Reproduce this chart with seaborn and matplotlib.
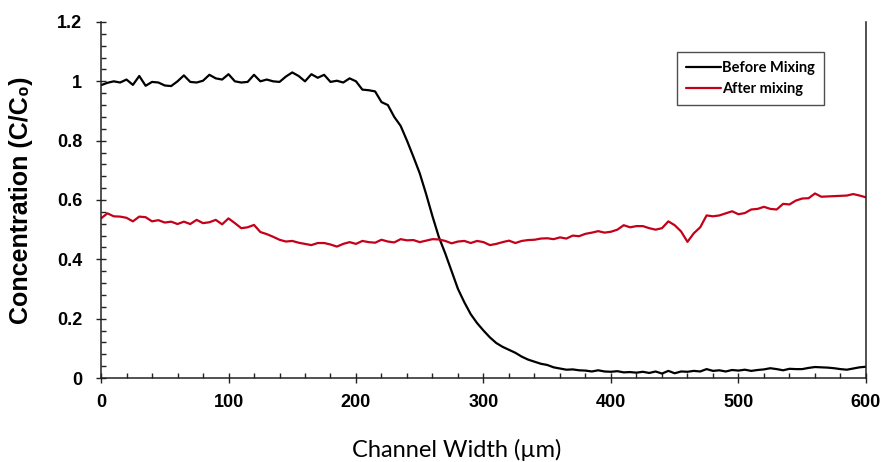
import matplotlib
matplotlib.use("Agg")
import matplotlib.pyplot as plt
import numpy as np
import pandas as pd
import seaborn as sns
from matplotlib import font_manager
from matplotlib.ticker import FuncFormatter, MultipleLocator

# channel position (um), one reading every 5 um
width_um = list(range(0, 605, 5))

before_mixing = [
    0.987, 0.995, 1.000, 0.996, 1.006, 0.988, 1.018, 0.985, 0.998, 0.996,
    0.986, 0.984, 1.000, 1.020, 0.998, 0.996, 1.002, 1.022, 1.010, 1.006,
    1.024, 1.000, 0.996, 0.998, 1.022, 1.000, 1.006, 1.000, 0.998, 1.016,
    1.030, 1.018, 1.000, 1.024, 1.012, 1.022, 0.998, 1.002, 0.996, 1.010,
    1.000, 0.972, 0.970, 0.966, 0.930, 0.920, 0.880, 0.850, 0.800, 0.746,
    0.690, 0.620, 0.545, 0.475, 0.420, 0.360, 0.300, 0.255, 0.215, 0.185,
    0.160, 0.137, 0.118, 0.105, 0.095, 0.085, 0.072, 0.062, 0.055, 0.048,
    0.044, 0.036, 0.032, 0.028, 0.029, 0.026, 0.025, 0.022, 0.026, 0.022,
    0.021, 0.023, 0.019, 0.020, 0.018, 0.021, 0.017, 0.022, 0.015, 0.024,
    0.016, 0.022, 0.021, 0.024, 0.022, 0.030, 0.024, 0.026, 0.022, 0.027,
    0.025, 0.028, 0.024, 0.027, 0.029, 0.033, 0.030, 0.026, 0.031, 0.030,
    0.030, 0.034, 0.037, 0.036, 0.035, 0.033, 0.030, 0.028, 0.032, 0.036,
    0.038,
]

after_mixing = [
    0.538, 0.555, 0.545, 0.544, 0.540, 0.528, 0.544, 0.542, 0.528, 0.532,
    0.524, 0.527, 0.519, 0.527, 0.519, 0.533, 0.522, 0.525, 0.533, 0.518,
    0.538, 0.522, 0.505, 0.508, 0.516, 0.492, 0.485, 0.476, 0.466, 0.460,
    0.462, 0.456, 0.452, 0.448, 0.455, 0.455, 0.450, 0.443, 0.452, 0.458,
    0.452, 0.462, 0.458, 0.456, 0.466, 0.460, 0.457, 0.468, 0.464, 0.465,
    0.458, 0.463, 0.468, 0.467, 0.462, 0.454, 0.460, 0.462, 0.455, 0.462,
    0.458, 0.448, 0.452, 0.458, 0.463, 0.455, 0.462, 0.465, 0.466, 0.470,
    0.471, 0.468, 0.474, 0.470, 0.480, 0.478, 0.486, 0.490, 0.495, 0.490,
    0.493, 0.500, 0.515, 0.508, 0.512, 0.512, 0.505, 0.500, 0.505, 0.528,
    0.515, 0.494, 0.459, 0.488, 0.508, 0.548, 0.545, 0.548, 0.555, 0.562,
    0.552, 0.556, 0.568, 0.570, 0.577, 0.570, 0.568, 0.587, 0.585, 0.598,
    0.605, 0.606, 0.622, 0.611, 0.612, 0.613, 0.614, 0.615, 0.620, 0.615,
    0.609,
]

series_names = ["Before Mixing", "After mixing"]
series_colors = ["#000000", "#C4001A"]


def pick_font(*names):
    installed = {f.name for f in font_manager.fontManager.ttflist}
    for name in names:
        if name in installed:
            return name
    return "DejaVu Sans"


sns.set_style("ticks")
narrow = pick_font("Liberation Sans Narrow", "Liberation Sans")
arial = pick_font("Liberation Sans")
calibri = pick_font("Lato", "Open Sans")
plt.rcParams["font.family"] = [arial, "DejaVu Sans"]
plt.rcParams["text.color"] = "black"
plt.rcParams["axes.labelcolor"] = "black"
plt.rcParams["xtick.color"] = "black"
plt.rcParams["ytick.color"] = "black"

df = pd.concat(
    [
        pd.DataFrame({"width": width_um, "conc": before_mixing, "series": series_names[0]}),
        pd.DataFrame({"width": width_um, "conc": after_mixing, "series": series_names[1]}),
    ],
    ignore_index=True,
)

fig = plt.figure(figsize=(8.83, 4.62), dpi=100)
ax = fig.add_axes([0.1144, 0.1818, 0.8663, 0.7706])

sns.lineplot(
    data=df, x="width", y="conc", hue="series",
    palette=dict(zip(series_names, series_colors)),
    linewidth=1.6, ax=ax, legend=False,
)

ax.set_xlim(0, 600)
ax.set_ylim(0, 1.2)
ax.xaxis.set_major_locator(MultipleLocator(100))
ax.xaxis.set_minor_locator(MultipleLocator(20))
ax.yaxis.set_major_locator(MultipleLocator(0.2))
ax.yaxis.set_minor_locator(MultipleLocator(0.04))
ax.yaxis.set_major_formatter(FuncFormatter(lambda v, _: f"{v:g}"))

ax.tick_params(which="major", direction="inout", length=7, width=1, color="#222222", pad=8)
ax.tick_params(axis="y", which="major", pad=10)
ax.tick_params(which="minor", direction="in", length=3.5, width=1, color="#222222")
for label in ax.get_xticklabels() + ax.get_yticklabels():
    label.set_fontfamily(narrow)
    label.set_fontweight("bold")
    label.set_fontsize(13)

ax.spines["top"].set_visible(False)
for side in ["left", "bottom", "right"]:
    ax.spines[side].set_color("#222222")
    ax.spines[side].set_linewidth(1.1)

ax.set_ylabel("Concentration (C/C\u2080)", fontsize=18, fontweight="bold",
              family=[arial, "DejaVu Sans"])
ax.yaxis.set_label_coords(-0.089, 0.5)
ax.set_xlabel("Channel Width (\u00b5m)", fontsize=17, family=calibri)
ax.xaxis.set_label_coords(0.465, -0.17)

handles = [plt.Line2D([], [], color=c, linewidth=1.6) for c in series_colors]
leg = ax.legend(
    handles, series_names, loc="upper right", bbox_to_anchor=(0.945, 0.916),
    borderaxespad=0, frameon=True, fancybox=False, handlelength=2.4,
    handletextpad=0.1, labelspacing=0.5, borderpad=0.6,
    prop={"family": calibri, "weight": "bold", "size": 10.5},
)
leg.get_frame().set_edgecolor("#222222")
leg.get_frame().set_linewidth(1.0)

fig.savefig("out.png", dpi=100)
